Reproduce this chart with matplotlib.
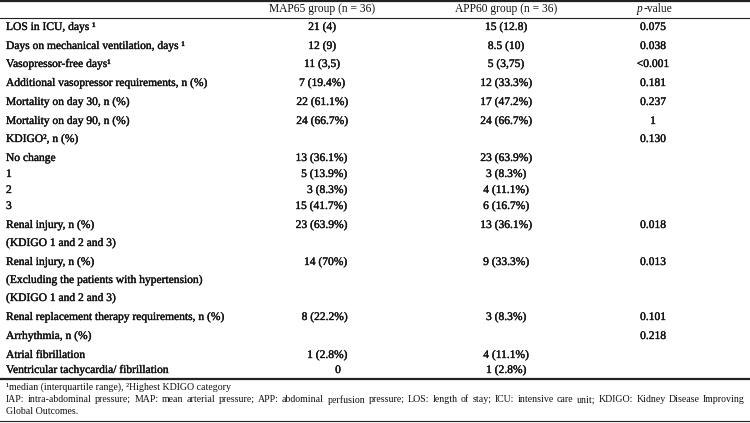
import matplotlib
matplotlib.use("Agg")
import matplotlib.pyplot as plt
import matplotlib.patheffects as pe

plt.rcParams.update({"font.family": ["Liberation Serif", "DejaVu Serif"], "font.size": 8.3,
                     "text.color": "#111111"})
thick = [pe.withStroke(linewidth=0.25, foreground="#111111")]

# ── Tabeldata ────────────────────────────────────────────────────────────────
header = ["", "MAP65 group (n = 36)", "APP60 group (n = 36)", "p-value"]

labels = [
    "LOS in ICU, days \u00b9",
    "Days on mechanical ventilation, days \u00b9",
    "Vasopressor-free days\u00b9",
    "Additional vasopressor requirements, n (%)",
    "Mortality on day 30, n (%)",
    "Mortality on day 90, n (%)",
    "KDIGO\u00b2, n (%)",
    "No change",
    "1",
    "2",
    "3",
    "Renal injury, n (%)\n(KDIGO 1 and 2 and 3)",
    "Renal injury, n (%)\n(Excluding the patients with hypertension)\n(KDIGO 1 and 2 and 3)",
    "Renal replacement therapy requirements, n (%)",
    "Arrhythmia, n (%)",
    "Atrial fibrillation",
    "Ventricular tachycardia/ fibrillation",
]
map65 = ["21 (4)", "12 (9)", "11 (3,5)", "7 (19.4%)", "22 (61.1%)", "24 (66.7%)", "",
         "13 (36.1%)", "5 (13.9%)", "3 (8.3%)", "15 (41.7%)", "23 (63.9%)", "14 (70%)",
         "8 (22.2%)", "", "1 (2.8%)", "0"]
app60 = ["15 (12.8)", "8.5 (10)", "5 (3,75)", "12 (33.3%)", "17 (47.2%)", "24 (66.7%)", "",
         "23 (63.9%)", "3 (8.3%)", "4 (11.1%)", "6 (16.7%)", "13 (36.1%)", "9 (33.3%)",
         "3 (8.3%)", "", "4 (11.1%)", "1 (2.8%)"]
pvals = ["0.075", "0.038", "<0.001", "0.181", "0.237", "1", "0.130",
         "", "", "", "", "0.018", "0.013", "0.101", "0.218", "", ""]

foot1 = "\u00b9median (interquartile range), \u00b2Highest KDIGO category"
foot2 = ("IAP: intra-abdominal pressure; MAP: mean arterial pressure; APP: abdominal perfusion "
         "pressure; LOS: length of stay; ICU: intensive care unit; KDIGO: Kidney Disease Improving")
foot3 = "Global Outcomes."

# ── Layout (pixel) ───────────────────────────────────────────────────────────
W, H = 750, 423
row_y = [27, 46, 64, 83, 102, 121, 139, 158, 174, 190, 206, 225, 262, 317, 336, 355, 370]
line_h = 18
col_x = [6, 322, 506, 653]
map_right = 347   # hoejre kant for MAP65 fra KDIGO-raekkerne og ned
foot_size = 7.1

fig = plt.figure(figsize=(W / 100, H / 100), dpi=100)
ax = fig.add_axes([0, 0, 1, 1])
ax.set_xlim(0, W)
ax.set_ylim(H, 0)
ax.axis("off")

# Linjer
ax.axhline(1, color="#222222", lw=1.6)
ax.axhline(18, color="#222222", lw=0.8)
ax.axhline(379, color="#222222", lw=1.6)
ax.axhline(421, color="#222222", lw=0.8)

# Header
ax.text(col_x[1], 9, header[1], ha="center", va="center")
ax.text(col_x[2], 9, header[2], ha="center", va="center")
ax.text(col_x[3] - 13, 9, "p", ha="center", va="center", style="italic")
ax.text(col_x[3] - 9, 9, "-value", ha="left", va="center")

for i, (y, lab, a, b, p) in enumerate(zip(row_y, labels, map65, app60, pvals)):
    for k, part in enumerate(lab.split("\n")):
        ax.text(col_x[0], y + k * line_h, part, ha="left", va="center", path_effects=thick)
    if a == "0":
        ax.text(map_right - 9, y, a, ha="center", va="center", path_effects=thick)
    elif i >= 7:
        ax.text(map_right, y, a, ha="right", va="center", path_effects=thick)
    else:
        ax.text(col_x[1], y, a, ha="center", va="center", path_effects=thick)
    ax.text(col_x[2], y, b, ha="center", va="center", path_effects=thick)
    ax.text(col_x[3], y, p, ha="center", va="center", path_effects=thick)

# Fodnoter
ax.text(6, 387, foot1, ha="left", va="center", fontsize=foot_size)
ax.text(6, 412, foot3, ha="left", va="center", fontsize=foot_size)

# Linje 2 er lige margen (justeret) fra 6 til 745 px
renderer = fig.canvas.get_renderer()
words = foot2.split(" ")
arts = [ax.text(0, 400, w, ha="left", va="center", fontsize=foot_size) for w in words]
widths = [a.get_window_extent(renderer).width for a in arts]
gap = (745 - 6 - sum(widths)) / (len(words) - 1)
x = 6
for a, w in zip(arts, widths):
    a.set_x(x)
    x += w + gap

fig.savefig("out.png", dpi=100)
